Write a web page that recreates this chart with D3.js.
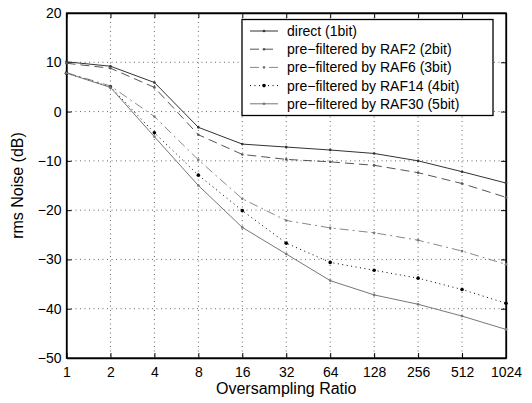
<!DOCTYPE html>
<html lang="en">
<head>
<meta charset="utf-8">
<title>rms noise vs oversampling</title>
<style>
  body { margin: 0; background: #fff; }
  svg text { font-family: "Liberation Sans", Arial, Helvetica, sans-serif; fill: #000; }
</style>
</head>
<body>
<div id="chart"></div>
<script src="https://d3js.org/d3.v7.min.js"></script>
<script>
// oversampling ratios (x axis, log2)
var ratios = [1, 2, 4, 8, 16, 32, 64, 128, 256, 512, 1024];

var direct = [10.1, 9.2, 5.9, -3.2, -6.6, -7.2, -7.8, -8.5, -10.0, -12.2, -14.5];
var raf2   = [9.8, 8.8, 4.9, -4.7, -8.7, -9.7, -10.2, -10.9, -12.4, -14.6, -17.4];
var raf6   = [7.9, 5.2, -1.0, -9.8, -17.7, -22.1, -23.6, -24.6, -26.1, -28.3, -31.0];
var raf14  = [7.8, 5.0, -4.3, -12.9, -20.1, -26.7, -30.6, -32.2, -33.8, -36.1, -38.9];
var raf30  = [7.8, 4.9, -5.1, -15.0, -23.5, -28.9, -34.3, -37.2, -39.1, -41.5, -44.2];

var seriesNames = [
  "direct (1bit)",
  "pre\u2212filtered by RAF2 (2bit)",
  "pre\u2212filtered by RAF6 (3bit)",
  "pre\u2212filtered by RAF14 (4bit)",
  "pre\u2212filtered by RAF30 (5bit)"
];
var yTicks = [20, 10, 0, -10, -20, -30, -40, -50];

var W = 532, H = 403;
var margin = {top: 13, right: 26, bottom: 45, left: 66.5};
var width = W - margin.left - margin.right,
    height = H - margin.top - margin.bottom;

var svg = d3.select("#chart").append("svg")
    .attr("width", W).attr("height", H);
var g = svg.append("g")
    .attr("transform", "translate(" + margin.left + "," + margin.top + ")");

var x = d3.scaleLog().base(2).domain([1, 1024]).range([0, width]);
var y = d3.scaleLinear().domain([-50, 20]).range([height, 0]);

function fmt(v) { return v < 0 ? "\u2212" + Math.abs(v) : String(v); }

// dotted grid
g.selectAll(".gx").data(ratios.slice(1, -1)).enter().append("line")
    .attr("x1", d => x(d)).attr("x2", d => x(d))
    .attr("y1", 0).attr("y2", height)
    .attr("stroke", "#000").attr("stroke-width", 0.6).attr("stroke-dasharray", "1,3.5");
g.selectAll(".gy").data(yTicks.slice(1, -1)).enter().append("line")
    .attr("y1", d => y(d)).attr("y2", d => y(d))
    .attr("x1", 0).attr("x2", width)
    .attr("stroke", "#000").attr("stroke-width", 0.6).attr("stroke-dasharray", "1,3.5");

// axes (ticks inward, also on top/right like matlab box)
var xAxis = g.append("g").attr("transform", "translate(0," + height + ")")
    .call(d3.axisBottom(x).tickValues(ratios).tickFormat(d => d).tickSizeInner(-5).tickSizeOuter(0).tickPadding(9));
var yAxis = g.append("g")
    .call(d3.axisLeft(y).tickValues(yTicks).tickFormat(fmt).tickSizeInner(-5).tickSizeOuter(0).tickPadding(5));
g.append("g").call(d3.axisTop(x).tickValues(ratios).tickFormat("").tickSizeInner(-5).tickSizeOuter(0));
g.append("g").attr("transform", "translate(" + width + ",0)")
    .call(d3.axisRight(y).tickValues(yTicks).tickFormat("").tickSizeInner(-5).tickSizeOuter(0));

g.selectAll(".domain").attr("stroke", "#000").attr("stroke-width", 1.3);
g.selectAll(".tick line").attr("stroke", "#000");
xAxis.selectAll("text").attr("font-size", 14).attr("fill", "#000");
yAxis.selectAll("text").attr("font-size", 14).attr("fill", "#000");
g.append("rect").attr("width", width).attr("height", height)
    .attr("fill", "none").attr("stroke", "#000").attr("stroke-width", 1.3);

// series styles
var styles = [
  {data: direct, color: "#333", dash: null, r: 1.3, mcolor: "#333"},
  {data: raf2,   color: "#555", dash: "9,5", r: 1.3, mcolor: "#555"},
  {data: raf6,   color: "#888", dash: "9,4,2,4", r: 1.3, mcolor: "#777"},
  {data: raf14,  color: "#000", dash: "1,3.5", r: 1.8, mcolor: "#000"},
  {data: raf30,  color: "#777", dash: null, r: 1.3, mcolor: "#777"}
];

var line = d3.line().x((d, i) => x(ratios[i])).y(d => y(d));

styles.forEach(function(s) {
  g.append("path").datum(s.data)
    .attr("d", line)
    .attr("fill", "none")
    .attr("stroke", s.color)
    .attr("stroke-width", 1)
    .attr("stroke-dasharray", s.dash);
  g.selectAll(null).data(s.data).enter().append("circle")
    .attr("cx", (d, i) => x(ratios[i])).attr("cy", d => y(d))
    .attr("r", s.r).attr("fill", s.mcolor);
});

// legend
var lg = svg.append("g").attr("transform", "translate(242,19.5)");
lg.append("rect").attr("width", 251).attr("height", 96)
    .attr("fill", "#fff").attr("stroke", "#000").attr("stroke-width", 1.3);
styles.forEach(function(s, i) {
  var ly = 11.5 + i * 18.2;
  lg.append("line").attr("x1", 8).attr("x2", 36).attr("y1", ly).attr("y2", ly)
    .attr("stroke", s.color).attr("stroke-width", 1).attr("stroke-dasharray", s.dash);
  lg.append("circle").attr("cx", 22).attr("cy", ly).attr("r", s.r).attr("fill", s.mcolor);
  lg.append("text").attr("x", 45).attr("y", ly).attr("dy", "0.35em")
    .attr("font-size", 14).text(seriesNames[i]);
});

// axis titles
svg.append("text").attr("x", margin.left + width / 2).attr("y", 394)
    .attr("text-anchor", "middle").attr("font-size", 16).text("Oversampling Ratio");
svg.append("text")
    .attr("transform", "translate(23," + (margin.top + height / 2) + ") rotate(-90)")
    .attr("text-anchor", "middle").attr("font-size", 16).text("rms Noise (dB)");
</script>
</body>
</html>
